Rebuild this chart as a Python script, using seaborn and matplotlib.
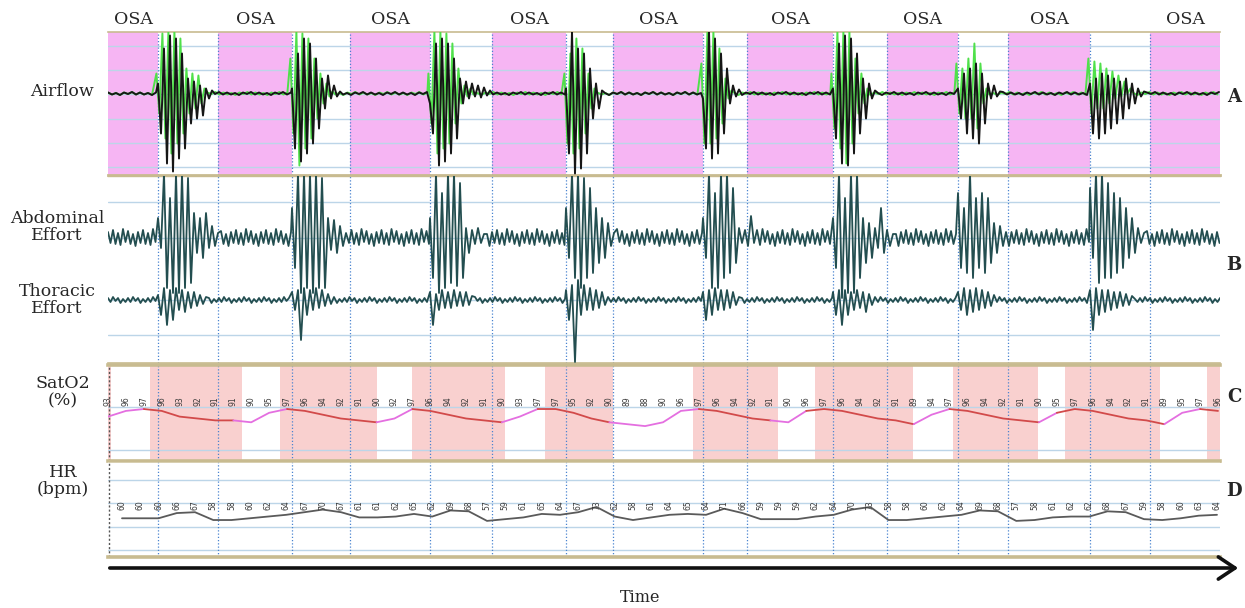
import numpy as np
import matplotlib
matplotlib.use("Agg")
import matplotlib.pyplot as plt
from matplotlib.patches import FancyArrowPatch
import seaborn as sns

# ---------------------------------------------------------------- data
# time base in seconds (0.5 s per screen pixel of the recording window)
T_END = 556.0

# obstructive apnea episodes (s)
APNEA = [(0, 25), (55, 92), (121, 161), (192, 229), (252.5, 297.5),
         (319.5, 362.5), (389.5, 425), (450, 491), (521, 556)]
EVENT_LABEL = "OSA"

# desaturation periods (s)
DESAT = [(0, 1.5), (21, 67), (86, 134.5), (152, 198.5), (218.5, 252.5),
         (292.5, 335), (353.5, 402.5), (422.5, 465), (478.5, 526), (549.5, 556)]

# onset of each recovery breathing burst (s)
BURST_START = [25, 92, 161, 229, 297.5, 362.5, 425, 491]

# airflow: successive breath extrema in each burst (two sensors)
AIR_BLACK = [
    [10, -40, 45, -70, 58, -78, 55, -65, 40, -55, 15, -30, 12, -25, 8, -22, 5, -5, 3],
    [5, -55, 40, -68, 55, -60, 50, -50, 35, -35, 15, -15, 18, -5, 8, -3, 2],
    [-10, -40, 50, -72, 55, -68, 50, -60, 35, -45, 15, -10, 12, -5, 10, -3, 8, -4, 6, -2, 3],
    [5, -60, 62, -80, 45, -75, 40, -60, 25, -25, 10, -15, 3],
    [-5, -55, 62, -65, 55, -60, 40, -40, 25, -10, 8, -3, 4],
    [5, -45, 50, -70, 58, -72, 55, -60, 40, -40, 15, -25, 10, -5, 3],
    [5, -25, 20, -40, 25, -45, 30, -50, 20, -30, 10, -5, 8, -3, 2],
    [10, -40, 15, -45, 20, -40, 18, -35, 15, -30, 12, -25, 15, -15, 10, -10, 5, -3, 2],
]
AIR_GREEN = [
    [20, -20, 60, -45, 62, -60, 62, -50, 55, -40, 25, -20, 20, -15, 18, -10, 5],
    [35, -40, 62, -72, 60, -55, 55, -45, 35, -25, 20, -10, 10, -3, 2],
    [20, -30, 62, -60, 62, -55, 60, -50, 50, -30, 25, -10, 8, -3, 5],
    [20, -50, 40, -60, 55, -55, 45, -40, 20, -15, 5],
    [30, -50, 62, -50, 62, -45, 45, -30, 15, -5, 3],
    [20, -35, 62, -55, 62, -70, 62, -50, 35, -20, 20, -10, 5],
    [30, -20, 25, -25, 35, -25, 50, -35, 30, -10, 5],
    [35, -20, 32, -15, 30, -15, 25, -10, 22, -5, 18, -3, 12, 0, 5],
]
AIR_QUIET = [1, -1, 0.5, -1.5, 1, -0.5, 1.5, -1]

# abdominal and thoracic effort belts
ABD_BURST = [
    [20, -10, 65, -50, 40, -55, 65, -55, 65, -50, 60, -45, 25, -15, 20, -20, 25, -10, 12, -8, 5],
    [30, -30, 65, -55, 65, -50, 65, -55, 65, -50, 60, -50, 20, -12, 18, -15, 12, -8, 5],
    [20, -40, 65, -55, 45, -50, 65, -45, 65, -48, 55, -40, 10, -15, 8, -6, 10, -5, 4],
    [30, -20, 65, -40, 65, -50, 60, -40, 50, -35, 30, -25, 20, -20, 15, -8, 5],
    [20, -20, 65, -50, 45, -50, 65, -40, 65, -35, 50, -25, 10, -5, 8, -8, 22, -5, 8],
    [20, -30, 65, -60, 40, -55, 65, -55, 65, -40, 20, -25, 15, -20, 10, -10, 30, -15, 8, -8, 4],
    [45, -30, 30, -35, 65, -40, 40, -30, 45, -35, 40, -25, 15, -15, 12, -8, 6],
    [50, -20, 65, -45, 65, -40, 55, -40, 45, -35, 40, -30, 30, -20, 20, -15, 10, -5, 5],
]
THOR_BURST = [
    [5, -15, 12, -25, 10, -20, 12, -10, 10, -12, 8, -8, 8, -6, 5, -4, 3],
    [8, -10, 10, -40, 12, -15, 10, -10, 12, -8, 10, -6, 6, -4, 3],
    [8, -25, 6, -10, 10, -8, 8, -8, 10, -6, 8, -6, 8, -5, 4],
    [10, -20, 15, -62, 20, -15, 15, -10, 12, -10, 10, -8, 8, -5, 3],
    [8, -20, 10, -15, 12, -10, 10, -10, 10, -8, 8, -5, 3],
    [8, -15, 10, -25, 10, -15, 8, -10, 10, -8, 8, -12, 6, -5, 3],
    [8, -10, 12, -15, 10, -12, 12, -10, 10, -8, 8, -6, 5],
    [10, -30, 12, -15, 10, -12, 10, -10, 8, -8, 8, -6, 6, -5, 4],
]
ABD_QUIET = [6, -5, 8, -6, 5, -7, 9, -4, 7, -6, 4, -8]
THOR_QUIET = [2, -2, 3, -1, 2, -3, 1, -2]

# oxygen saturation (%) and heart rate (bpm) samples
SAT_VALUES = [93, 96, 97, 96, 93, 92, 91, 91, 90, 95, 97, 96, 94, 92, 91, 90,
              92, 97, 96, 94, 92, 91, 90, 93, 97, 97, 95, 92, 90, 89, 88, 90,
              96, 97, 96, 94, 92, 91, 90, 96, 97, 96, 94, 92, 91, 89, 94, 97,
              96, 94, 92, 91, 90, 95, 97, 96, 94, 92, 91, 89, 95, 97, 96]
HR_VALUES = [60, 60, 60, 66, 67, 58, 58, 60, 62, 64, 67, 70, 67, 61, 61, 62,
             65, 62, 69, 68, 57, 59, 61, 65, 64, 67, 73, 62, 58, 61, 64, 65,
             64, 71, 66, 59, 59, 59, 62, 64, 70, 73, 58, 58, 60, 62, 64, 69,
             68, 57, 58, 61, 62, 62, 68, 67, 59, 58, 60, 63, 64]
SAT_T = np.linspace(0, 555, len(SAT_VALUES))
HR_T = np.linspace(7, 554.5, len(HR_VALUES))

# ---------------------------------------------------------------- helpers
def build_trace(bursts, quiet, quiet_dt, burst_dt, lag=0.0):
    """Join quiet-breathing ripple and recovery bursts into one trace."""
    ts, vs = [], []
    t, k = 0.0, 0
    for start, ext in zip(BURST_START, bursts):
        start = start + lag
        while t < start - 0.3:
            ts.append(t); vs.append(quiet[k % len(quiet)]); k += 1; t += quiet_dt
        for j, v in enumerate(ext):
            ts.append(start + j * burst_dt); vs.append(v)
        t = start + len(ext) * burst_dt
    while t <= T_END:
        ts.append(t); vs.append(quiet[k % len(quiet)]); k += 1; t += quiet_dt
    return np.array(ts), np.array(vs, dtype=float)


def line(ax, x, y, color, lw, z=3):
    sns.lineplot(x=x, y=y, ax=ax, color=color, linewidth=lw, estimator=None,
                 sort=False, legend=False, zorder=z)


# ---------------------------------------------------------------- style
sns.set_theme(style="white")
plt.rcParams["font.family"] = ["DejaVu Serif"]

W, H = 1245, 608
fig = plt.figure(figsize=(W / 100, H / 100), dpi=100)
fig.patch.set_facecolor("white")

TAN = "#c8bb90"
GRID = "#bcd5e8"
DOT = "#4a84d0"
PINK = "#f6b5f3"
SALMON = "#f9d0cf"


def px_axes(x0, y0, x1, y1):
    return fig.add_axes([x0 / W, 1 - y1 / H, (x1 - x0) / W, (y1 - y0) / H])


ax_air = px_axes(108, 32, 1220, 175)
ax_eff = px_axes(108, 176, 1220, 363)
ax_sat = px_axes(108, 365, 1220, 461)
ax_hr = px_axes(108, 462, 1220, 557)

limits = {ax_air: (-81.5, 61.5), ax_eff: (-63, 124),
          ax_sat: (69.6, 120.2), ax_hr: (15.5, 124.7)}
grids = {ax_air: [48, 24, 0, -25, -49.5, -73.5], ax_eff: [98, 62, 0, -35],
         ax_sat: [98.0, 75.4], ax_hr: [104.0, 77.5, 50.0, 23.5]}
border_w = {ax_air: (1.2, 2.0), ax_eff: (1.0, 1.2), ax_sat: (2.6, 2.6), ax_hr: (0.5, 2.6)}

for ax in (ax_air, ax_eff, ax_sat, ax_hr):
    ax.set_xlim(0, T_END)
    ax.set_ylim(*limits[ax])
    ax.set_xticks([]); ax.set_yticks([])
    ax.set_xlabel(""); ax.set_ylabel("")
    ax.set_facecolor("white")
    for s in ("left", "right"):
        ax.spines[s].set_visible(False)
    ax.spines["top"].set_color(TAN); ax.spines["bottom"].set_color(TAN)
    ax.spines["top"].set_linewidth(border_w[ax][0])
    ax.spines["bottom"].set_linewidth(border_w[ax][1])
    for g in grids[ax]:
        ax.axhline(g, color=GRID, lw=1.0, zorder=1)
    for a, b in APNEA:
        for edge in (a, b):
            if 0 < edge < T_END:
                ax.axvline(edge, color=DOT, lw=0.9, ls=(0, (1, 1.6)), zorder=2)

# panel A: airflow with apnea shading
for a, b in APNEA:
    ax_air.axvspan(a, b, color=PINK, lw=0, zorder=0)
tg, vg = build_trace(AIR_GREEN, AIR_QUIET, 2.0, 1.5, lag=-0.8)
tb, vb = build_trace(AIR_BLACK, AIR_QUIET, 2.0, 1.5)
line(ax_air, tg, vg, "#4fe04a", 1.4, z=3)
line(ax_air, tb, vb, "#161616", 1.4, z=4)

# panel B: abdominal and thoracic effort
ta, va = build_trace(ABD_BURST, ABD_QUIET, 1.25, 1.5)
tt, vt = build_trace(THOR_BURST, THOR_QUIET, 1.25, 1.5)
line(ax_eff, ta, va + 62, "#234e50", 1.3)
line(ax_eff, tt, vt, "#234e50", 1.3)

# panel C: SpO2 with desaturation shading
for a, b in DESAT:
    ax_sat.axvspan(a, b, color=SALMON, lw=0, zorder=0)
ax_sat.axvline(0.4, color="#555555", lw=1.0, ls=(0, (1.5, 1.5)), zorder=2)


def in_desat(t):
    return any(a <= t <= b for a, b in DESAT)


sat = np.array(SAT_VALUES, dtype=float)
seg_red = [in_desat(0.5 * (SAT_T[i] + SAT_T[i + 1])) for i in range(len(sat) - 1)]
i = 0
while i < len(seg_red):
    j = i
    while j + 1 < len(seg_red) and seg_red[j + 1] == seg_red[i]:
        j += 1
    line(ax_sat, SAT_T[i:j + 2], sat[i:j + 2],
         "#d24a4a" if seg_red[i] else "#e46fe0", 1.3)
    i = j + 1
for t, v in zip(SAT_T, SAT_VALUES):
    ax_sat.text(t, 100.9, str(v), rotation=90, ha="center", va="center",
                fontsize=5.5, color="#3a3a3a", family="DejaVu Sans", zorder=5)

# panel D: heart rate
ax_hr.axvline(0.4, color="#555555", lw=1.0, ls=(0, (1.5, 1.5)), zorder=2)
line(ax_hr, HR_T, np.array(HR_VALUES, dtype=float), "#5a5a5a", 1.3)
for t, v in zip(HR_T, HR_VALUES):
    ax_hr.text(t, 75.5, str(v), rotation=90, ha="center", va="center",
               fontsize=5.5, color="#3a3a3a", family="DejaVu Sans", zorder=5)

# ---------------------------------------------------------------- annotations
def ftext(x, y, s, **kw):
    fig.text(x / W, 1 - y / H, s, **kw)


for a, b in APNEA:
    xc = 108 + (a + b)  # 2 px per second
    ftext(xc, 19, EVENT_LABEL, ha="center", va="center", fontsize=12.5)

ftext(62, 92, "Airflow", ha="center", va="center", fontsize=12.5)
ftext(57, 227, "Abdominal\nEffort", ha="center", va="center", fontsize=12.5, linespacing=1.05)
ftext(57, 300, "Thoracic\nEffort", ha="center", va="center", fontsize=12.5, linespacing=1.05)
ftext(63, 392, "SatO2\n(%)", ha="center", va="center", fontsize=12.5, linespacing=1.05)
ftext(63, 481, "HR\n(bpm)", ha="center", va="center", fontsize=12.5, linespacing=1.05)
for s, y in (("A", 97), ("B", 265), ("C", 397), ("D", 491)):
    ftext(1234, y, s, ha="center", va="center", fontsize=13, fontweight="bold")
ftext(640, 597, "Time", ha="center", va="center", fontsize=11.5)

arrow = FancyArrowPatch((107 / W, 1 - 568 / H), (1241 / W, 1 - 568 / H),
                        transform=fig.transFigure,
                        arrowstyle="->,head_length=0.6,head_width=0.4",
                        mutation_scale=20, lw=2.6, color="#111111")
fig.add_artist(arrow)

fig.savefig("out.png", dpi=100, facecolor="white")
